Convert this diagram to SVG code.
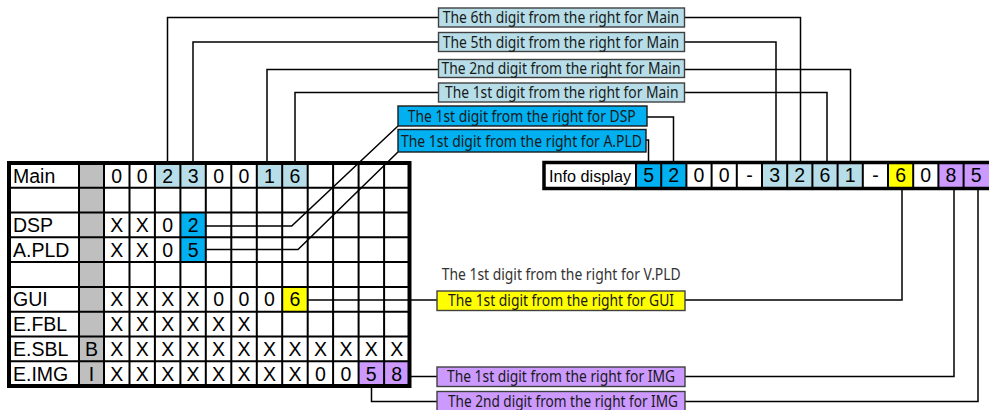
<svg xmlns="http://www.w3.org/2000/svg" width="989" height="410" viewBox="0 0 989 410">
<style>
.t{font-family:"Liberation Sans",Arial,sans-serif;font-size:19.5px;fill:#000}
.c{text-anchor:middle}
.g{stroke:#000;stroke-width:2;fill:none}
.lb{font-family:"Noto Sans","Open Sans",sans-serif;font-size:15.5px;fill:#1a1a1a}
.box{stroke:#404040;stroke-width:1.4}
.cn{stroke:#000;stroke-width:1.5;fill:none}
.lbl{fill:#B7DEE8}.blu{fill:#00B0F0}.yel{fill:#FFFF00}.pur{fill:#CC99FF}.gry{fill:#BFBFBF}
</style>
<rect width="989" height="410" fill="#fff"/>

<g id="table">
<rect x="9" y="163" width="400.5" height="223" fill="#fff"/>
<rect class="gry" x="79" y="163" width="25" height="223"/>
<rect class="lbl" x="154.9" y="163" width="25.5" height="24.8"/>
<rect class="lbl" x="180.4" y="163" width="25.4" height="24.8"/>
<rect class="lbl" x="256.8" y="163" width="25.4" height="24.8"/>
<rect class="lbl" x="282.2" y="163" width="25.5" height="24.8"/>
<rect class="blu" x="180.4" y="212.6" width="25.4" height="24.7"/>
<rect class="blu" x="180.4" y="237.3" width="25.4" height="24.8"/>
<rect class="yel" x="282.2" y="286.9" width="25.5" height="24.8"/>
<rect class="pur" x="358.6" y="361.2" width="25.5" height="24.8"/>
<rect class="pur" x="384.1" y="361.2" width="25.4" height="24.8"/>
<path class="g" d="M9 187.8H409.5M9 212.6H409.5M9 237.3H409.5M9 262.1H409.5M9 286.9H409.5M9 311.7H409.5M9 336.4H409.5M9 361.2H409.5M79 163V386M104 163V386M129.5 163V386M154.9 163V386M180.4 163V386M205.8 163V386M231.3 163V386M256.8 163V386M282.2 163V386M307.7 163V386M333.1 163V386M358.6 163V386M384.1 163V386"/>
<rect x="9" y="163" width="400.5" height="223" fill="none" stroke="#000" stroke-width="4"/>
<text class="t" x="13" y="182.5">Main</text>
<text class="t" x="13" y="232.1">DSP</text>
<text class="t" x="13" y="256.8">A.PLD</text>
<text class="t" x="13" y="306.4">GUI</text>
<text class="t" x="13" y="331.2">E.FBL</text>
<text class="t" x="13" y="355.9">E.SBL</text>
<text class="t" x="13" y="380.7">E.IMG</text>
<text class="t c" x="91.5" y="355.9">B</text>
<text class="t c" x="91.5" y="380.7">I</text>
<g class="t c">
<text x="116.7" y="182.5">0</text><text x="142.2" y="182.5">0</text><text x="167.7" y="182.5">2</text><text x="193.1" y="182.5">3</text><text x="218.6" y="182.5">0</text><text x="244" y="182.5">0</text><text x="269.5" y="182.5">1</text><text x="295" y="182.5">6</text>
<text x="116.7" y="232.1">X</text><text x="142.2" y="232.1">X</text><text x="167.7" y="232.1">0</text><text x="193.1" y="232.1">2</text>
<text x="116.7" y="256.8">X</text><text x="142.2" y="256.8">X</text><text x="167.7" y="256.8">0</text><text x="193.1" y="256.8">5</text>
<text x="116.7" y="306.4">X</text><text x="142.2" y="306.4">X</text><text x="167.7" y="306.4">X</text><text x="193.1" y="306.4">X</text><text x="218.6" y="306.4">0</text><text x="244" y="306.4">0</text><text x="269.5" y="306.4">0</text><text x="295" y="306.4">6</text>
<text x="116.7" y="331.2">X</text><text x="142.2" y="331.2">X</text><text x="167.7" y="331.2">X</text><text x="193.1" y="331.2">X</text><text x="218.6" y="331.2">X</text><text x="244" y="331.2">X</text>
<text x="116.7" y="355.9">X</text><text x="142.2" y="355.9">X</text><text x="167.7" y="355.9">X</text><text x="193.1" y="355.9">X</text><text x="218.6" y="355.9">X</text><text x="244" y="355.9">X</text><text x="269.5" y="355.9">X</text><text x="295" y="355.9">X</text><text x="320.4" y="355.9">X</text><text x="345.9" y="355.9">X</text><text x="371.3" y="355.9">X</text><text x="396.8" y="355.9">X</text>
<text x="116.7" y="380.7">X</text><text x="142.2" y="380.7">X</text><text x="167.7" y="380.7">X</text><text x="193.1" y="380.7">X</text><text x="218.6" y="380.7">X</text><text x="244" y="380.7">X</text><text x="269.5" y="380.7">X</text><text x="295" y="380.7">X</text><text x="320.4" y="380.7">0</text><text x="345.9" y="380.7">0</text><text x="371.3" y="380.7">5</text><text x="396.8" y="380.7">8</text>
</g>
</g>

<g id="info-display">
<rect x="544" y="162.5" width="450" height="26" fill="#fff"/>
<rect class="blu" x="636" y="162.5" width="25.2" height="26"/>
<rect class="blu" x="661.2" y="162.5" width="25.2" height="26"/>
<rect class="lbl" x="762" y="162.5" width="25.2" height="26"/>
<rect class="lbl" x="787.2" y="162.5" width="25.2" height="26"/>
<rect class="lbl" x="812.4" y="162.5" width="25.2" height="26"/>
<rect class="lbl" x="837.6" y="162.5" width="25.2" height="26"/>
<rect class="yel" x="888" y="162.5" width="25.2" height="26"/>
<rect class="pur" x="938.4" y="162.5" width="25.2" height="26"/>
<rect class="pur" x="963.6" y="162.5" width="30" height="26"/>
<path class="g" d="M636 162.5V188.5M661.2 162.5V188.5M686.4 162.5V188.5M711.6 162.5V188.5M736.8 162.5V188.5M762 162.5V188.5M787.2 162.5V188.5M812.4 162.5V188.5M837.6 162.5V188.5M862.8 162.5V188.5M888 162.5V188.5M913.2 162.5V188.5M938.4 162.5V188.5M963.6 162.5V188.5"/>
<rect x="544" y="162.5" width="450" height="26" fill="none" stroke="#000" stroke-width="3.5"/>
<text class="t" x="549" y="181.5" style="font-size:16.5px" textLength="82" lengthAdjust="spacingAndGlyphs">Info display</text>
<g class="t c">
<text x="648.6" y="182">5</text><text x="673.8" y="182">2</text><text x="699" y="182">0</text><text x="724.2" y="182">0</text><text x="749.4" y="182">-</text><text x="774.6" y="182">3</text><text x="799.8" y="182">2</text><text x="825" y="182">6</text><text x="850.2" y="182">1</text><text x="875.4" y="182">-</text><text x="900.6" y="182">6</text><text x="925.8" y="182">0</text><text x="951" y="182">8</text><text x="976.2" y="182">5</text>
</g>
</g>

<g id="connectors">
<polyline class="cn" points="438.5,17.5 167.5,17.5 167.5,163"/>
<polyline class="cn" points="438.5,42 193,42 193,163"/>
<polyline class="cn" points="438.5,69.5 267,69.5 267,163"/>
<polyline class="cn" points="438.5,92.5 295,92.5 295,163"/>
<polyline class="cn" points="684.5,17.5 800.5,17.5 800.5,162"/>
<polyline class="cn" points="684.5,42 776,42 776,162"/>
<polyline class="cn" points="684.5,69.5 850.5,69.5 850.5,162"/>
<polyline class="cn" points="684.5,92.5 827,92.5 827,162"/>
<polyline class="cn" points="205.8,226 291.7,226 398,126"/>
<polyline class="cn" points="647,117 673.5,117 673.5,162"/>
<polyline class="cn" points="205.8,249.5 298,249.5 398,152"/>
<polyline class="cn" points="646,140 648.5,140 648.5,162"/>
<polyline class="cn" points="307.7,300 437,300"/>
<polyline class="cn" points="685,300 902,300 902,189"/>
<polyline class="cn" points="409.5,376.5 437,376.5"/>
<polyline class="cn" points="685,376.5 954,376.5 954,189"/>
<polyline class="cn" points="371.5,386 371.5,401.5 437,401.5"/>
<polyline class="cn" points="685,401.5 978,401.5 978,189"/>
</g>

<g id="label-main-6th">
<rect class="box lbl" x="438.5" y="8" width="246" height="19"/>
<text class="lb" x="442.7" y="23" textLength="236.5" lengthAdjust="spacingAndGlyphs">The 6th digit from the right for Main</text>
</g>
<g id="label-main-5th">
<rect class="box lbl" x="438.5" y="32.5" width="246" height="19"/>
<text class="lb" x="442.7" y="47.5" textLength="236.5" lengthAdjust="spacingAndGlyphs">The 5th digit from the right for Main</text>
</g>
<g id="label-main-2nd">
<rect class="box lbl" x="438.5" y="59.5" width="246" height="18"/>
<text class="lb" x="441.5" y="74" textLength="239" lengthAdjust="spacingAndGlyphs">The 2nd digit from the right for Main</text>
</g>
<g id="label-main-1st">
<rect class="box lbl" x="438.5" y="83" width="246" height="19"/>
<text class="lb" x="445" y="98" textLength="233.5" lengthAdjust="spacingAndGlyphs">The 1st digit from the right for Main</text>
</g>
<g id="label-dsp">
<rect class="box blu" x="398" y="106" width="249" height="20" style="stroke:#1a1a1a"/>
<text class="lb" x="407.7" y="121.5" textLength="228" lengthAdjust="spacingAndGlyphs">The 1st digit from the right for DSP</text>
</g>
<g id="label-apld">
<rect class="box blu" x="398" y="129.5" width="248" height="22.5" style="stroke:#1a1a1a"/>
<text class="lb" x="401" y="147" textLength="241" lengthAdjust="spacingAndGlyphs">The 1st digit from the right for A.PLD</text>
</g>
<g id="label-vpld">
<text class="lb" x="441.7" y="280" textLength="239" lengthAdjust="spacingAndGlyphs" style="fill:#333">The 1st digit from the right for V.PLD</text>
</g>
<g id="label-gui">
<rect class="box yel" x="437" y="291" width="248" height="19.5"/>
<text class="lb" x="448" y="305.5" textLength="226" lengthAdjust="spacingAndGlyphs">The 1st digit from the right for GUI</text>
</g>
<g id="label-img-1st">
<rect class="box pur" x="437" y="367" width="248" height="19.5"/>
<text class="lb" x="447" y="381.7" textLength="228" lengthAdjust="spacingAndGlyphs">The 1st digit from the right for IMG</text>
</g>
<g id="label-img-2nd">
<rect class="box pur" x="437" y="391.5" width="248" height="20"/>
<text class="lb" x="448" y="406.5" textLength="230" lengthAdjust="spacingAndGlyphs">The 2nd digit from the right for IMG</text>
</g>
</svg>
